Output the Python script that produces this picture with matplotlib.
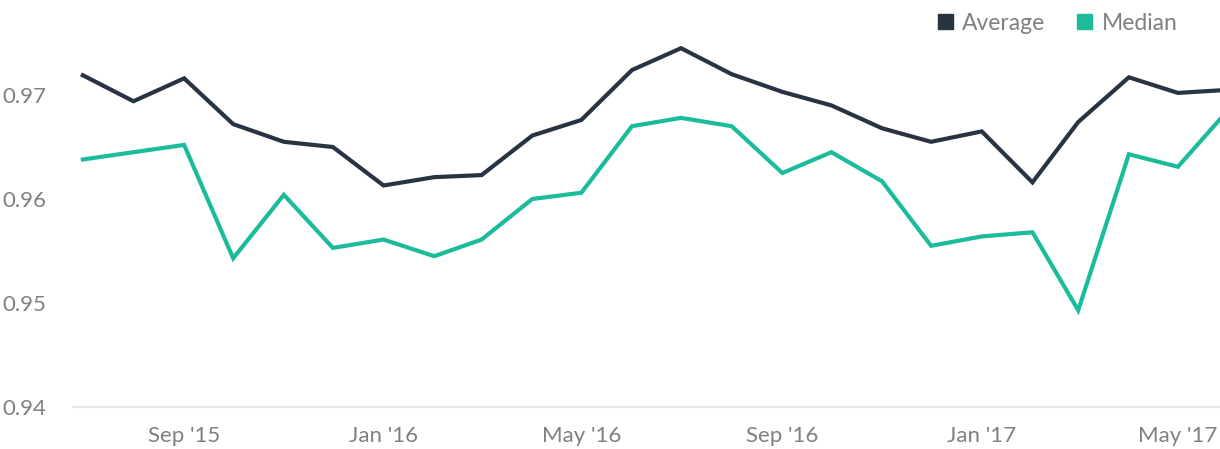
import pandas as pd
import matplotlib
matplotlib.use('agg')
import matplotlib.pyplot as plt
import matplotlib.dates as mdates
from matplotlib.patches import Patch

# monthly series, Jul 2015 - Jun 2017
months = pd.date_range('2015-07-01', '2017-06-01', freq='MS')

average = [0.9719, 0.9694, 0.9716, 0.9672, 0.9655, 0.9650, 0.9613, 0.9621,
           0.9623, 0.9661, 0.9676, 0.9724, 0.9745, 0.9720, 0.9703, 0.9690,
           0.9668, 0.9655, 0.9665, 0.9616, 0.9674, 0.9717, 0.9702, 0.9705]

median = [0.9638, 0.9645, 0.9652, 0.9543, 0.9604, 0.9553, 0.9561, 0.9545,
          0.9561, 0.9600, 0.9606, 0.9670, 0.9678, 0.9670, 0.9625, 0.9645,
          0.9617, 0.9555, 0.9564, 0.9568, 0.9493, 0.9643, 0.9631, 0.9686]

tick_dates = pd.to_datetime(['2015-09-01', '2016-01-01', '2016-05-01',
                             '2016-09-01', '2017-01-01', '2017-05-01'])
y_ticks = [0.94, 0.95, 0.96, 0.97]

AVG_COLOR = '#283441'
MED_COLOR = '#1abc9c'
TEXT_COLOR = '#808080'

plt.rcParams['font.family'] = ['Lato', 'DejaVu Sans']

fig = plt.figure(figsize=(12.2, 4.49), dpi=100)
ax = fig.add_axes([73 / 1220, 42 / 449, 1 - 73 / 1220, 407 / 449])

ax.plot(months, average, color=AVG_COLOR, lw=3.0, solid_joinstyle='miter')
ax.plot(months, median, color=MED_COLOR, lw=3.0, solid_joinstyle='miter')

ax.set_xlim(pd.Timestamp('2015-06-25'), pd.Timestamp('2017-05-26 18:00'))
ax.set_ylim(0.94, 0.94 + 407 / 10400)

ax.set_xticks(tick_dates)
ax.xaxis.set_major_formatter(mdates.DateFormatter("%b '%y"))
ax.set_yticks(y_ticks)
ax.set_yticklabels(['0.94', '0.95', '0.96', '0.97'])

for side in ['top', 'right', 'left']:
    ax.spines[side].set_visible(False)
ax.spines['bottom'].set_color('#e6e6e6')
ax.spines['bottom'].set_linewidth(1.5)
ax.spines['bottom'].set_zorder(0)

ax.tick_params(axis='both', length=0, labelsize=16, labelcolor=TEXT_COLOR)
ax.tick_params(axis='y', pad=19)
ax.tick_params(axis='x', pad=14)

handles = [Patch(color=AVG_COLOR, label='Average'),
           Patch(color=MED_COLOR, label='Median')]
fig.legend(handles=handles, loc='upper right', bbox_to_anchor=(0.982, 1.018),
           ncol=2, frameon=False, fontsize=16.5, labelcolor=TEXT_COLOR,
           handlelength=0.65, handleheight=0.65, handletextpad=0.4,
           columnspacing=1.4)

fig.savefig('out.png', dpi=100)
